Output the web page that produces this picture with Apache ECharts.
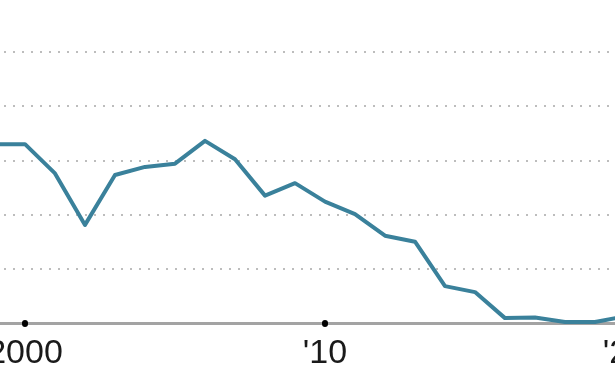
<!DOCTYPE html>
<html>
<head>
<meta charset="utf-8">
<script src="https://cdn.jsdelivr.net/npm/echarts@6/dist/echarts.min.js"></script>
<style>
html,body{margin:0;padding:0;background:#fff;}
#chart{width:615px;height:388px;}
</style>
</head>
<body>
<div id="chart"></div>
<script>
var years = [1999, 2000, 2001, 2002, 2003, 2004, 2005, 2006, 2007, 2008, 2009, 2010, 2011, 2012, 2013, 2014, 2015, 2016, 2017, 2018, 2019, 2020];
var values = [33.0, 33.0, 27.6, 18.1, 27.3, 28.8, 29.4, 33.6, 30.2, 23.5, 25.8, 22.4, 20.1, 16.1, 15.0, 6.8, 5.7, 0.9, 1.0, 0.2, 0.2, 1.2];
var xTicks = [1990, 2000, 2010, 2020, 2030];

var chart = echarts.init(document.getElementById('chart'));
chart.setOption({
  animation: false,
  backgroundColor: '#fff',
  grid: { left: -275, right: -310, top: 52, bottom: 65, containLabel: false, outerBoundsMode: 'none' },
  xAxis: {
    type: 'value',
    min: xTicks[0],
    max: xTicks[xTicks.length - 1],
    interval: 10,
    axisLine: { show: true, lineStyle: { color: '#a3a3a3', width: 3 } },
    axisTick: { show: true, length: 1, lineStyle: { color: '#000', width: 6, cap: 'round' } },
    splitLine: { show: false },
    axisLabel: {
      show: true,
      margin: 14,
      fontSize: 34,
      fontFamily: 'Liberation Sans, Arial, sans-serif',
      color: '#1a1a1a',
      formatter: function (v) { return v === 2000 ? '2000' : "'" + String(v).slice(2); }
    }
  },
  yAxis: {
    type: 'value',
    min: 0,
    max: 50,
    interval: 10,
    axisLine: { show: false },
    axisTick: { show: false },
    axisLabel: { show: false },
    splitLine: { show: true, lineStyle: { color: '#bdbdbd', width: 2, type: [2, 7], dashOffset: 0 } }
  },
  series: [{
    type: 'line',
    data: years.map(function (y, i) { return [y, values[i]]; }),
    showSymbol: false,
    symbol: 'none',
    lineStyle: { color: '#3a819b', width: 4, join: 'round' },
    z: 5
  }]
});
</script>
</body>
</html>
